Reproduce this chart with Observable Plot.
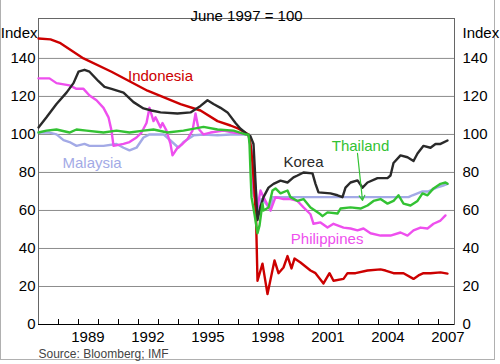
<!DOCTYPE html>
<html>
<head>
<meta charset="utf-8">
<script src="https://cdn.jsdelivr.net/npm/d3@7"></script>
<script src="https://cdn.jsdelivr.net/npm/@observablehq/plot@0.6"></script>
<style>
  html, body { margin: 0; padding: 0; background: #fff; }
  #wrap { position: relative; width: 500px; height: 364px; overflow: hidden; }
  #border { position: absolute; left: 0; top: -2px; width: 495px; height: 362px; border: 1px solid #b0b0b0; box-sizing: border-box; }
  #chart { position: absolute; left: 0; top: 0; }
</style>
</head>
<body>
<div id="wrap"><div id="border"></div><div id="chart"></div></div>
<script>
// ---- data (decimal year, index June 1997 = 100) ----
const names = ["Malaysia", "Philippines", "Indonesia", "Korea", "Thailand"];
const colors = ["#a3aae6", "#ee4fee", "#cc0000", "#2a2a2a", "#33c233"];

const indonesia = [
  [1987.0,150.5],[1987.6,150],[1988.1,148],[1989.25,140],[1990.65,133],[1992.45,123],
  [1994.1,116],[1995.1,112.6],[1995.95,107],[1996.6,104.7],[1997.0,103],[1997.5,100],
  [1997.6,95],[1997.7,85],[1997.8,70],[1997.88,55],[1997.95,23],[1998.2,32],[1998.45,16],
  [1998.8,33.7],[1999.0,27],[1999.25,30],[1999.45,36],[1999.65,29.5],[1999.8,34.7],
  [2000.1,32.6],[2000.6,28.4],[2000.85,27],[2001.25,21.6],[2001.55,27],[2001.75,23],
  [2002.25,24],[2002.45,27],[2002.85,27],[2003.45,28.4],[2004.1,29],[2004.35,28.4],
  [2004.75,27],[2005.25,27],[2005.75,24],[2006.0,25.8],[2006.25,27],[2006.6,27],
  [2007.1,27.4],[2007.45,26.8]
];
const korea = [
  [1987.0,103.7],[1987.4,109],[1987.9,116],[1988.4,122],[1988.75,127],[1989.0,133],
  [1989.3,134],[1989.55,133],[1990.0,128],[1990.3,125],[1990.65,124],[1991.25,122],
  [1991.75,117],[1992.25,113.7],[1992.65,112.6],[1993.1,111.6],[1993.95,111],[1994.6,111.6],
  [1995.1,115],[1995.45,118],[1995.75,116],[1996.1,114],[1996.45,111.6],[1996.85,106],
  [1997.1,103],[1997.45,100],[1997.6,99],[1997.75,95],[1997.85,75],[1997.95,55],
  [1998.1,62],[1998.25,67],[1998.5,72],[1998.75,74],[1999.1,75.7],[1999.45,74.7],
  [1999.75,77.4],[1999.95,78.4],[2000.25,80],[2000.7,79.5],[2000.85,74],[2001.0,69.5],
  [2001.6,69],[2001.95,68],[2002.2,67],[2002.35,72],[2002.6,74.7],[2002.95,75.8],
  [2003.2,72],[2003.45,74.7],[2003.95,77],[2004.45,77],[2004.6,78.4],[2004.75,85],
  [2005.1,89],[2005.45,88],[2005.75,86],[2005.95,90],[2006.25,94],[2006.6,93],
  [2006.85,95],[2007.1,95],[2007.45,96.8]
];
const thailand = [
  [1987.0,101],[1987.4,102],[1987.9,102.6],[1988.55,101],[1988.9,102.6],[1989.4,102],
  [1990.25,101],[1990.9,102],[1991.55,101],[1992.25,102],[1992.75,102.6],[1993.45,101],
  [1994.25,102],[1995.25,104],[1995.95,102.6],[1996.75,102],[1997.35,100],[1997.5,100],
  [1997.55,95],[1997.6,80],[1997.65,67],[1997.8,58],[1997.95,48],[1998.05,52],
  [1998.2,63.7],[1998.25,60],[1998.5,61.6],[1998.7,70.5],[1998.85,71.6],[1999.1,69],
  [1999.45,70.5],[1999.6,67],[1999.95,65],[2000.25,66],[2000.6,61.6],[2001.1,58],
  [2001.2,57],[2001.45,59],[2001.95,58.4],[2002.1,61],[2002.6,61.6],[2003.1,61],
  [2003.45,62.6],[2003.75,65],[2004.1,66],[2004.45,63.6],[2004.75,65],[2005.0,68],
  [2005.25,63.6],[2005.6,62.6],[2005.95,65],[2006.2,69],[2006.45,68],[2006.75,71.6],
  [2007.1,74],[2007.35,74.7],[2007.45,74]
];
const malaysia = [
  [1987.0,101],[1987.55,101],[1987.9,100],[1988.25,97],[1988.55,96],[1988.9,94],
  [1989.3,95],[1989.55,94],[1990.25,94],[1990.9,95],[1991.25,93],[1991.55,91.6],
  [1991.9,93],[1992.25,98.4],[1992.55,100],[1993.25,100],[1993.6,96.8],[1994.0,93],
  [1994.25,96],[1994.75,99.5],[1995.25,100],[1995.95,99.5],[1996.6,100],[1997.5,100],
  [1997.7,88],[1997.85,72],[1998.0,58],[1998.15,66],[1998.35,64],[1998.6,60],
  [1998.7,67],[2000.0,67],[2002.0,67],[2004.0,67],[2005.5,67],[2005.7,68],
  [2006.2,70],[2006.5,70],[2006.9,72],[2007.2,73],[2007.45,74]
];
const philippines = [
  [1987.0,129.5],[1987.55,129.5],[1987.9,127],[1988.55,125.8],[1988.9,124],[1989.25,124],
  [1989.55,120.5],[1989.9,118],[1990.25,114],[1990.5,109],[1990.65,102],[1990.75,94],
  [1991.25,95],[1991.55,96],[1991.9,98.4],[1992.15,101],[1992.4,106],[1992.55,114],
  [1992.75,107],[1992.85,109],[1993.1,103.7],[1993.2,106],[1993.4,102],[1993.45,100],
  [1993.6,95],[1993.7,89],[1993.95,93],[1994.2,95],[1994.45,97.6],[1994.7,102],
  [1994.85,111],[1995.0,103],[1995.25,100],[1995.6,101],[1996.25,102],[1996.75,101],
  [1997.5,100],[1997.65,90],[1997.75,69],[1997.95,61.6],[1998.1,70.5],[1998.25,67],
  [1998.6,60],[1998.85,67],[1999.25,66],[1999.6,66],[1999.95,65],[2000.25,61.6],
  [2000.6,58],[2000.75,53],[2001.1,53.7],[2001.45,51],[2001.75,53],[2002.25,51],
  [2002.6,50.5],[2002.95,49.5],[2003.25,50.5],[2003.6,48],[2004.1,46.8],[2004.6,46.8],
  [2005.1,48.4],[2005.45,46.8],[2005.75,49.5],[2006.1,51],[2006.45,50.5],[2006.75,53],
  [2007.1,54.7],[2007.35,57.4]
];

const yTicks = [0, 20, 40, 60, 80, 100, 120, 140];
const gridTicks = [20, 40, 60, 80, 100, 120, 140];
const xLabelYears = [1989, 1992, 1995, 1998, 2001, 2004, 2007];
const xTickYears = d3.range(1988, 2008);

const seriesLabels = [
  {name: "Indonesia", t: 1993.1, v: 130.5},
  {name: "Malaysia", t: 1989.68, v: 84.7},
  {name: "Korea", t: 2000.25, v: 85.3},
  {name: "Thailand", t: 2003.1, v: 93.7},
  {name: "Philippines", t: 2001.43, v: 44.7}
];
const thaiArrow = [{t1: 2002.95, v1: 90, t2: 2003.2, v2: 65.3}];

// ---- build table ----
const bySeries = {Indonesia: indonesia, Korea: korea, Thailand: thailand, Malaysia: malaysia, Philippines: philippines};
const table = names.flatMap(n => bySeries[n].map(([t, v]) => ({name: n, t, v})));

const chart = Plot.plot({
  width: 500,
  height: 364,
  marginLeft: 38,
  marginRight: 46,
  marginTop: 18,
  marginBottom: 40,
  style: {fontFamily: "'Liberation Sans', Arial, sans-serif", fontSize: "15px", background: "transparent", overflow: "visible"},
  x: {type: "linear", domain: [1987, 2007.8], axis: null},
  y: {domain: [0, 161], axis: null},
  color: {domain: names, range: colors},
  marks: [
    Plot.ruleY(gridTicks, {stroke: "#8c8c8c", strokeWidth: 1}),
    Plot.frame({stroke: "#666"}),
    Plot.line(table, {x: "t", y: "v", z: "name", stroke: "name", strokeWidth: 2.4, strokeLinejoin: "round"}),
    Plot.ruleY([0], {stroke: "#000", strokeWidth: 1}),
    Plot.ruleX(xTickYears, {stroke: "#000", strokeWidth: 1, insetTop: 301}),
    Plot.text(xLabelYears, {x: d => d + 0.47, frameAnchor: "bottom", dy: 17, text: d => String(d), fill: "#000"}),
    Plot.axisY(yTicks, {anchor: "left", tickSize: 0, tickPadding: 3, fill: "#000"}),
    Plot.axisY(yTicks, {anchor: "right", tickSize: 0, tickPadding: 8, fill: "#000"}),
    Plot.text(["June 1997 = 100"], {frameAnchor: "top", dy: -8, fill: "#000"}),
    Plot.text(["Index"], {frameAnchor: "top-left", textAnchor: "end", dx: -1, dy: 9, fill: "#000"}),
    Plot.text(["Index"], {frameAnchor: "top-right", textAnchor: "start", dx: 8, dy: 9, fill: "#000"}),
    Plot.text(["Source: Bloomberg; IMF"], {frameAnchor: "bottom-left", textAnchor: "start", dy: 33, fontSize: 12, fill: "#444"}),
    Plot.text(seriesLabels, {x: "t", y: "v", text: "name", fill: "name"}),
    Plot.arrow(thaiArrow, {x1: "t1", y1: "v1", x2: "t2", y2: "v2", stroke: "#33c233", strokeWidth: 1.2, headLength: 7})
  ]
});
document.getElementById("chart").appendChild(chart);
</script>
</body>
</html>
